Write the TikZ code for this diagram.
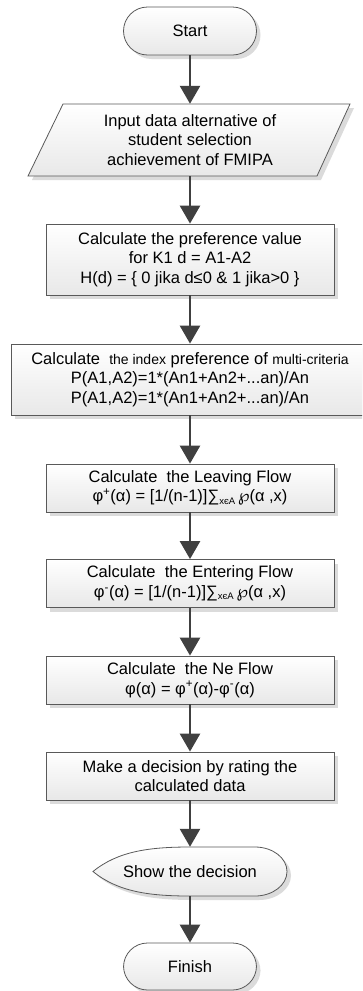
\documentclass[tikz,border=0pt]{standalone}
\usepackage{fontspec}
\setmainfont{Liberation Sans}
\newfontfamily\symfont{DejaVu Sans}
\usetikzlibrary{shadows,arrows.meta}

\newcommand{\smalltxt}[1]{{\fontsize{14}{19.5}\selectfont #1}}
\newcommand{\subtxt}[1]{\raisebox{-2.5pt}{\fontsize{9.5}{10}\selectfont #1}}

\tikzset{
  base/.style={draw=black!65, line width=0.8pt, top color=white, bottom color=black!9,
    drop shadow={shadow xshift=4pt, shadow yshift=-4pt, fill=black!14, opacity=1}},
  term/.style={base, rectangle, rounded corners=24pt, minimum width=133pt, minimum height=48pt},
  proc/.style={base, rectangle, minimum width=288pt, minimum height=48pt, align=center},
  txt/.style={align=center},
  arr/.style={draw=black!75, line width=2.6pt, -{Triangle[width=20pt,length=18pt]}},
}

\begin{document}
\begin{tikzpicture}[x=1pt, y=-1pt, font=\fontsize{16.5}{19.5}\selectfont]
    \clip (0,0) rectangle (362,991);

    \node (start) [term] at (190,31) {Start};

    \draw[base] (63,104) -- (350,104) -- (317,176) -- (28,176) -- cycle;
    \node (input) [txt, minimum height=72pt] at (190,140)
        {Input data alternative of\\student selection\\achievement of FMIPA};

    \node (pref) [proc, minimum height=71pt] at (190,259.5)
        {Calculate the preference value\\for K1 d = A1-A2\\H(d) = \{ 0 jika d≤0 \& 1 jika>0 \}};

    \node (index) [proc, minimum width=358pt, minimum height=71pt] at (190,379.5)
        {Calculate\ \ \smalltxt{the index} preference of \smalltxt{multi-criteria}\\
         P(A1,A2)=1*(An1+An2+...an)/An\\P(A1,A2)=1*(An1+An2+...an)/An};

    \node (leave) [proc] at (190,488)
        {Calculate\ \ the Leaving Flow\\
         φ\textsuperscript{+}(α) = [1/(n-1)]∑\subtxt{xєA}\,{\symfont ℘}(α ,x)};

    \node (enter) [proc] at (190,583.5)
        {Calculate\ \ the Entering Flow\\
         φ\textsuperscript{-}(α) = [1/(n-1)]∑\subtxt{xєA}\,{\symfont ℘}(α ,x)};

    \node (net) [proc] at (190,680)
        {Calculate\ \ the Ne Flow\\φ(α) = φ\textsuperscript{+}(α)-φ\textsuperscript{-}(α)};

    \node (decide) [proc] at (190,776)
        {Make a decision by rating the\\calculated data};

    \draw[base] (93,871.5) .. controls (118,851) and (150,847) .. (190,847) -- (255,847)
        arc[start angle=-90, end angle=90, x radius=32, y radius=24.5]
        -- (190,896) .. controls (150,896) and (118,892) .. cycle;
    \node (show) [txt, minimum height=49pt] at (190,871.5) {Show the decision};

    \node (finish) [term, minimum height=47pt] at (190,966.5) {Finish};

    \draw[arr] (start.south) -- (input.north);
    \draw[arr] (input.south) -- (pref.north);
    \draw[arr] (pref.south) -- (index.north);
    \draw[arr] (index.south) -- (leave.north);
    \draw[arr] (leave.south) -- (enter.north);
    \draw[arr] (enter.south) -- (net.north);
    \draw[arr] (net.south) -- (decide.north);
    \draw[arr] (decide.south) -- (show.north);
    \draw[arr] (show.south) -- (finish.north);
\end{tikzpicture}
\end{document}
